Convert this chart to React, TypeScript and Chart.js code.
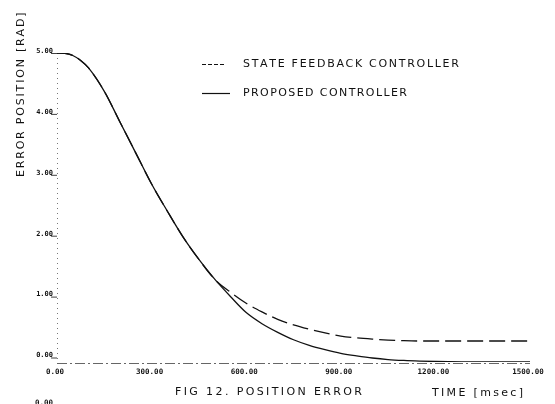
import React, { useEffect, useRef } from "react";
import { Chart, registerables } from "chart.js";

Chart.register(...registerables);

const timesMs = [0, 25, 50, 75, 100, 150, 200, 250, 300, 350, 400, 450, 500, 550, 600, 650, 700, 750, 800, 850, 900, 950, 1000, 1050, 1100, 1150, 1200, 1300, 1400, 1500];
const proposed = [5.0, 4.995, 4.96, 4.88, 4.76, 4.38, 3.88, 3.38, 2.88, 2.44, 2.02, 1.66, 1.34, 1.06, 0.8, 0.62, 0.48, 0.36, 0.27, 0.2, 0.14, 0.1, 0.065, 0.04, 0.025, 0.015, 0.008, 0.003, 0.001, 0.0];
const stateFeedback = [5.0, 4.995, 4.96, 4.88, 4.76, 4.38, 3.88, 3.38, 2.88, 2.44, 2.02, 1.66, 1.34, 1.13, 0.95, 0.81, 0.69, 0.6, 0.53, 0.47, 0.42, 0.39, 0.37, 0.355, 0.345, 0.34, 0.34, 0.34, 0.34, 0.34];
const yTickValues = [0, 1, 2, 3, 4, 5];
const yTickLabels = ["0.00", "1.00", "2.00", "3.00", "4.00", "5.00"];
const xTickValues = [0, 300, 600, 900, 1200, 1500];
const xTickLabels = ["0.00", "300.00", "600.00", "900.00", "1200.00", "1500.00"];
const seriesNames = ["STATE FEEDBACK CONTROLLER", "PROPOSED CONTROLLER"];
const yTitle = "ERROR POSITION [RAD]";
const figCaption = "FIG 12. POSITION ERROR";
const xTitle = "TIME [msec]";

const INK = "#111";

function fitText(ctx: CanvasRenderingContext2D, text: string, x: number, y: number, width: number) {
  const w = ctx.measureText(text).width;
  const n = text.length;
  const sp = n > 1 ? (width - w) / (n - 1) : 0;
  let cx = x;
  for (const ch of text) {
    ctx.fillText(ch, cx, y);
    cx += ctx.measureText(ch).width + sp;
  }
}

const decorPlugin = {
  id: "decor",
  beforeDatasetsDraw(chart: any) {
    const ctx: CanvasRenderingContext2D = chart.ctx;
    const xs = chart.scales.x;
    const ys = chart.scales.y;
    ctx.save();
    ctx.strokeStyle = "#777";
    ctx.lineWidth = 1;
    ctx.setLineDash([1, 4]);
    ctx.beginPath();
    ctx.moveTo(xs.getPixelForValue(0) + 0.5, ys.getPixelForValue(5));
    ctx.lineTo(xs.getPixelForValue(0) + 0.5, ys.getPixelForValue(0) + 2);
    ctx.stroke();
    ctx.setLineDash([10, 3, 2, 3]);
    ctx.strokeStyle = "#666";
    ctx.beginPath();
    const yb = ys.getPixelForValue(0) + 1.5;
    ctx.moveTo(xs.getPixelForValue(0), yb);
    ctx.lineTo(xs.getPixelForValue(1500), yb);
    ctx.stroke();
    ctx.setLineDash([]);
    ctx.restore();
  },
  afterDraw(chart: any) {
    const ctx: CanvasRenderingContext2D = chart.ctx;
    const xs = chart.scales.x;
    const ys = chart.scales.y;
    ctx.save();
    ctx.fillStyle = INK;
    ctx.strokeStyle = INK;
    ctx.font = "bold 7px 'DejaVu Sans Mono'";
    ctx.textAlign = "right";
    ctx.textBaseline = "middle";
    yTickValues.forEach((v, i) => {
      const py = ys.getPixelForValue(v);
      ctx.fillText(yTickLabels[i], 53, py - 2 - (5 - v) * 0.9);
      ctx.lineWidth = 0.8;
      ctx.beginPath();
      ctx.moveTo(51, py + 0.5 - (5 - v) * 0.9);
      ctx.lineTo(57, py + 0.5 - (5 - v) * 0.9);
      ctx.stroke();
    });
    ctx.font = "bold 7.5px 'DejaVu Sans Mono'";
    ctx.textAlign = "center";
    xTickValues.forEach((v, i) => {
      const px = xs.getPixelForValue(v);
      ctx.fillText(xTickLabels[i], px - 2, 372);
    });
    ctx.textAlign = "left";
    ctx.fillText("0.00", 35, 403);
    ctx.textAlign = "left";
    ctx.textBaseline = "middle";
    ctx.font = "11px 'DejaVu Sans'";
    fitText(ctx, seriesNames[0], 243, 64.5, 214);
    fitText(ctx, seriesNames[1], 243, 93.5, 164);
    fitText(ctx, figCaption, 175, 392, 187);
    fitText(ctx, xTitle, 432, 393.5, 91);
    ctx.save();
    ctx.translate(21.5, 177);
    ctx.rotate(-Math.PI / 2);
    fitText(ctx, yTitle, 0, 0, 164);
    ctx.restore();
    ctx.lineWidth = 1.2;
    ctx.setLineDash([4, 2]);
    ctx.beginPath();
    ctx.moveTo(202, 64.5);
    ctx.lineTo(224, 64.5);
    ctx.stroke();
    ctx.setLineDash([]);
    ctx.beginPath();
    ctx.moveTo(202, 93.5);
    ctx.lineTo(230, 93.5);
    ctx.stroke();
    ctx.restore();
  },
};

export default function App() {
  const ref = useRef<HTMLCanvasElement | null>(null);
  useEffect(() => {
    document.body.style.margin = "0";
    document.body.style.background = "#fff";
    const canvas = ref.current!;
    const chart = new Chart(canvas, {
      type: "line",
      data: {
        datasets: [
          {
            label: seriesNames[1],
            data: timesMs.map((t, i) => ({ x: t, y: proposed[i] })),
            borderColor: INK,
            borderWidth: 1.3,
            pointRadius: 0,
            cubicInterpolationMode: "monotone",
            fill: false,
          },
          {
            label: seriesNames[0],
            data: timesMs.map((t, i) => ({ x: t, y: stateFeedback[i] })),
            borderColor: INK,
            borderWidth: 1.3,
            borderDash: [16, 6],
            pointRadius: 0,
            cubicInterpolationMode: "monotone",
            fill: false,
          },
        ],
      },
      options: {
        responsive: false,
        animation: false,
        layout: { padding: { left: 57, right: 25, top: 53, bottom: 42 } },
        plugins: { legend: { display: false }, tooltip: { enabled: false } },
        scales: {
          x: { type: "linear", display: false, min: 0, max: 1500 },
          y: { type: "linear", display: false, min: 0, max: 5 },
        },
      },
      plugins: [decorPlugin],
    });
    return () => chart.destroy();
  }, []);
  return <canvas ref={ref} width={555} height={404} style={{ display: "block" }} />;
}
